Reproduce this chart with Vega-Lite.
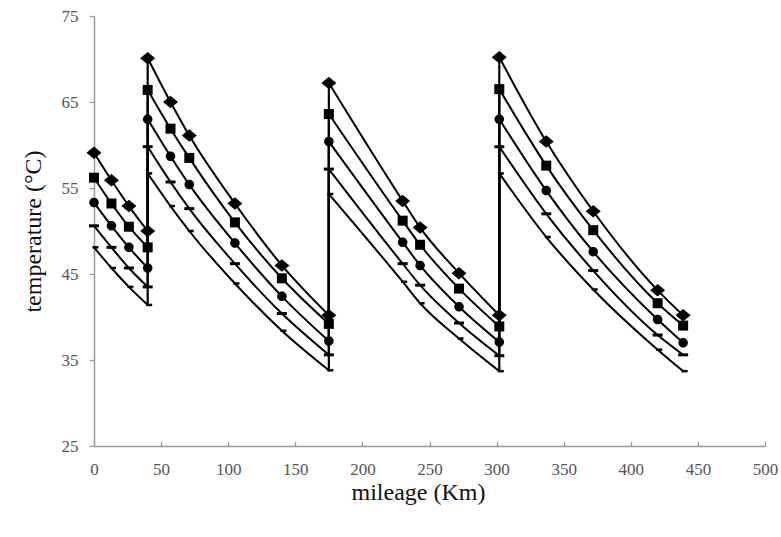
{
  "$schema": "https://vega.github.io/schema/vega-lite/v6.json",
  "width": 671,
  "height": 430,
  "autosize": {"type": "none"},
  "padding": {"left": 94, "top": 16, "right": 16, "bottom": 91},
  "background": "white",
  "config": {
    "view": {"stroke": null},
    "axis": {
      "grid": false,
      "labelFlush": false,
      "domainColor": "#9a9a9a",
      "domainWidth": 1.5,
      "tickColor": "#9a9a9a",
      "tickWidth": 1.2,
      "labelFont": "Liberation Serif",
      "labelFontSize": 17,
      "labelColor": "#555555",
      "titleFont": "Liberation Serif",
      "titleFontSize": 24,
      "titleFontWeight": "normal",
      "titleColor": "#111111"
    }
  },
  "data": {
    "values": [
      {"series": "A", "seg": 1, "km": 0, "temp": 59.1},
      {"series": "A", "seg": 1, "km": 13, "temp": 55.9},
      {"series": "A", "seg": 1, "km": 26, "temp": 52.9},
      {"series": "A", "seg": 1, "km": 40, "temp": 50.0},
      {"series": "A", "seg": 2, "km": 40, "temp": 70.1},
      {"series": "A", "seg": 2, "km": 57, "temp": 65.0},
      {"series": "A", "seg": 2, "km": 71, "temp": 61.1},
      {"series": "A", "seg": 2, "km": 105, "temp": 53.2},
      {"series": "A", "seg": 2, "km": 140, "temp": 46.0},
      {"series": "A", "seg": 2, "km": 175, "temp": 40.2},
      {"series": "A", "seg": 3, "km": 175, "temp": 67.2},
      {"series": "A", "seg": 3, "km": 230, "temp": 53.5},
      {"series": "A", "seg": 3, "km": 243, "temp": 50.4},
      {"series": "A", "seg": 3, "km": 272, "temp": 45.1},
      {"series": "A", "seg": 3, "km": 302, "temp": 40.2},
      {"series": "A", "seg": 4, "km": 302, "temp": 70.2},
      {"series": "A", "seg": 4, "km": 337, "temp": 60.4},
      {"series": "A", "seg": 4, "km": 372, "temp": 52.3},
      {"series": "A", "seg": 4, "km": 420, "temp": 43.1},
      {"series": "A", "seg": 4, "km": 439, "temp": 40.2},

      {"series": "B", "seg": 1, "km": 0, "temp": 56.2},
      {"series": "B", "seg": 1, "km": 13, "temp": 53.2},
      {"series": "B", "seg": 1, "km": 26, "temp": 50.5},
      {"series": "B", "seg": 1, "km": 40, "temp": 48.1},
      {"series": "B", "seg": 2, "km": 40, "temp": 66.4},
      {"series": "B", "seg": 2, "km": 57, "temp": 61.9},
      {"series": "B", "seg": 2, "km": 71, "temp": 58.5},
      {"series": "B", "seg": 2, "km": 105, "temp": 51.0},
      {"series": "B", "seg": 2, "km": 140, "temp": 44.5},
      {"series": "B", "seg": 2, "km": 175, "temp": 39.2},
      {"series": "B", "seg": 3, "km": 175, "temp": 63.6},
      {"series": "B", "seg": 3, "km": 230, "temp": 51.2},
      {"series": "B", "seg": 3, "km": 243, "temp": 48.4},
      {"series": "B", "seg": 3, "km": 272, "temp": 43.3},
      {"series": "B", "seg": 3, "km": 302, "temp": 38.9},
      {"series": "B", "seg": 4, "km": 302, "temp": 66.5},
      {"series": "B", "seg": 4, "km": 337, "temp": 57.6},
      {"series": "B", "seg": 4, "km": 372, "temp": 50.1},
      {"series": "B", "seg": 4, "km": 420, "temp": 41.6},
      {"series": "B", "seg": 4, "km": 439, "temp": 39.0},

      {"series": "C", "seg": 1, "km": 0, "temp": 53.3},
      {"series": "C", "seg": 1, "km": 13, "temp": 50.6},
      {"series": "C", "seg": 1, "km": 26, "temp": 48.1},
      {"series": "C", "seg": 1, "km": 40, "temp": 45.7},
      {"series": "C", "seg": 2, "km": 40, "temp": 63.0},
      {"series": "C", "seg": 2, "km": 57, "temp": 58.7},
      {"series": "C", "seg": 2, "km": 71, "temp": 55.4},
      {"series": "C", "seg": 2, "km": 105, "temp": 48.6},
      {"series": "C", "seg": 2, "km": 140, "temp": 42.4},
      {"series": "C", "seg": 2, "km": 175, "temp": 37.2},
      {"series": "C", "seg": 3, "km": 175, "temp": 60.4},
      {"series": "C", "seg": 3, "km": 230, "temp": 48.7},
      {"series": "C", "seg": 3, "km": 243, "temp": 46.0},
      {"series": "C", "seg": 3, "km": 272, "temp": 41.2},
      {"series": "C", "seg": 3, "km": 302, "temp": 37.1},
      {"series": "C", "seg": 4, "km": 302, "temp": 63.0},
      {"series": "C", "seg": 4, "km": 337, "temp": 54.7},
      {"series": "C", "seg": 4, "km": 372, "temp": 47.6},
      {"series": "C", "seg": 4, "km": 420, "temp": 39.7},
      {"series": "C", "seg": 4, "km": 439, "temp": 37.0},

      {"series": "D", "seg": 1, "km": 0, "temp": 50.6},
      {"series": "D", "seg": 1, "km": 13, "temp": 48.1},
      {"series": "D", "seg": 1, "km": 26, "temp": 45.7},
      {"series": "D", "seg": 1, "km": 40, "temp": 43.5},
      {"series": "D", "seg": 2, "km": 40, "temp": 59.8},
      {"series": "D", "seg": 2, "km": 57, "temp": 55.7},
      {"series": "D", "seg": 2, "km": 71, "temp": 52.6},
      {"series": "D", "seg": 2, "km": 105, "temp": 46.2},
      {"series": "D", "seg": 2, "km": 140, "temp": 40.4},
      {"series": "D", "seg": 2, "km": 175, "temp": 35.6},
      {"series": "D", "seg": 3, "km": 175, "temp": 57.2},
      {"series": "D", "seg": 3, "km": 230, "temp": 46.2},
      {"series": "D", "seg": 3, "km": 243, "temp": 43.7},
      {"series": "D", "seg": 3, "km": 272, "temp": 39.3},
      {"series": "D", "seg": 3, "km": 302, "temp": 35.5},
      {"series": "D", "seg": 4, "km": 302, "temp": 59.8},
      {"series": "D", "seg": 4, "km": 337, "temp": 52.0},
      {"series": "D", "seg": 4, "km": 372, "temp": 45.4},
      {"series": "D", "seg": 4, "km": 420, "temp": 37.9},
      {"series": "D", "seg": 4, "km": 439, "temp": 35.6},

      {"series": "E", "seg": 1, "km": 0, "temp": 48.1},
      {"series": "E", "seg": 1, "km": 13, "temp": 45.7},
      {"series": "E", "seg": 1, "km": 26, "temp": 43.5},
      {"series": "E", "seg": 1, "km": 40, "temp": 41.4},
      {"series": "E", "seg": 2, "km": 40, "temp": 56.7},
      {"series": "E", "seg": 2, "km": 57, "temp": 52.9},
      {"series": "E", "seg": 2, "km": 71, "temp": 50.0},
      {"series": "E", "seg": 2, "km": 105, "temp": 43.9},
      {"series": "E", "seg": 2, "km": 140, "temp": 38.4},
      {"series": "E", "seg": 2, "km": 175, "temp": 33.8},
      {"series": "E", "seg": 3, "km": 175, "temp": 54.3},
      {"series": "E", "seg": 3, "km": 230, "temp": 44.1},
      {"series": "E", "seg": 3, "km": 243, "temp": 41.6},
      {"series": "E", "seg": 3, "km": 272, "temp": 37.5},
      {"series": "E", "seg": 3, "km": 302, "temp": 33.7},
      {"series": "E", "seg": 4, "km": 302, "temp": 56.7},
      {"series": "E", "seg": 4, "km": 337, "temp": 49.3},
      {"series": "E", "seg": 4, "km": 372, "temp": 43.2},
      {"series": "E", "seg": 4, "km": 420, "temp": 36.2},
      {"series": "E", "seg": 4, "km": 439, "temp": 33.7}
    ]
  },
  "encoding": {
    "x": {
      "field": "km",
      "type": "quantitative",
      "scale": {"domain": [0, 500], "nice": false},
      "axis": {
        "title": "mileage (Km)",
        "values": [0, 50, 100, 150, 200, 250, 300, 350, 400, 450, 500],
        "tickSize": -5,
        "labelPadding": 20,
        "titleX": 324,
        "titleY": 46,
        "titleBaseline": "middle",
        "titleAlign": "center"
      }
    },
    "y": {
      "field": "temp",
      "type": "quantitative",
      "scale": {"domain": [25, 75], "zero": false, "nice": false},
      "axis": {
        "title": "temperature (°C)",
        "values": [25, 35, 45, 55, 65, 75],
        "tickSize": 5,
        "labelPadding": 11,
        "titleX": -61,
        "titleY": 215,
        "titleBaseline": "middle",
        "titleAlign": "center",
        "titleAngle": 270
      }
    }
  },
  "layer": [
    {
      "mark": {"type": "line", "interpolate": "monotone", "color": "black", "strokeWidth": 2},
      "encoding": {
        "detail": [
          {"field": "series", "type": "nominal"},
          {"field": "seg", "type": "nominal"}
        ]
      }
    },
    {
      "transform": [{"filter": "datum.km == 40 || datum.km == 175 || datum.km == 302"}],
      "mark": {"type": "line", "color": "black", "strokeWidth": 2.2},
      "encoding": {
        "detail": [
          {"field": "series", "type": "nominal"},
          {"field": "km", "type": "nominal"}
        ]
      }
    },
    {
      "mark": {"type": "point", "filled": true, "color": "black", "opacity": 1, "strokeWidth": 0, "size": 100},
      "encoding": {
        "shape": {
          "field": "series",
          "type": "nominal",
          "scale": {
            "domain": ["A", "B", "C", "D", "E"],
            "range": [
              "M-1.5,0L0,-1.25L1.5,0L0,1.25Z",
              "M-1,-1H1V1H-1Z",
              "M-0.95,0A0.95,0.95,0,1,0,0.95,0A0.95,0.95,0,1,0,-0.95,0Z",
              "M-1,-0.3H1V0.3H-1Z",
              "M-0.3,-0.25H0.9V0.25H-0.3Z"
            ]
          },
          "legend": null
        }
      }
    }
  ]
}
